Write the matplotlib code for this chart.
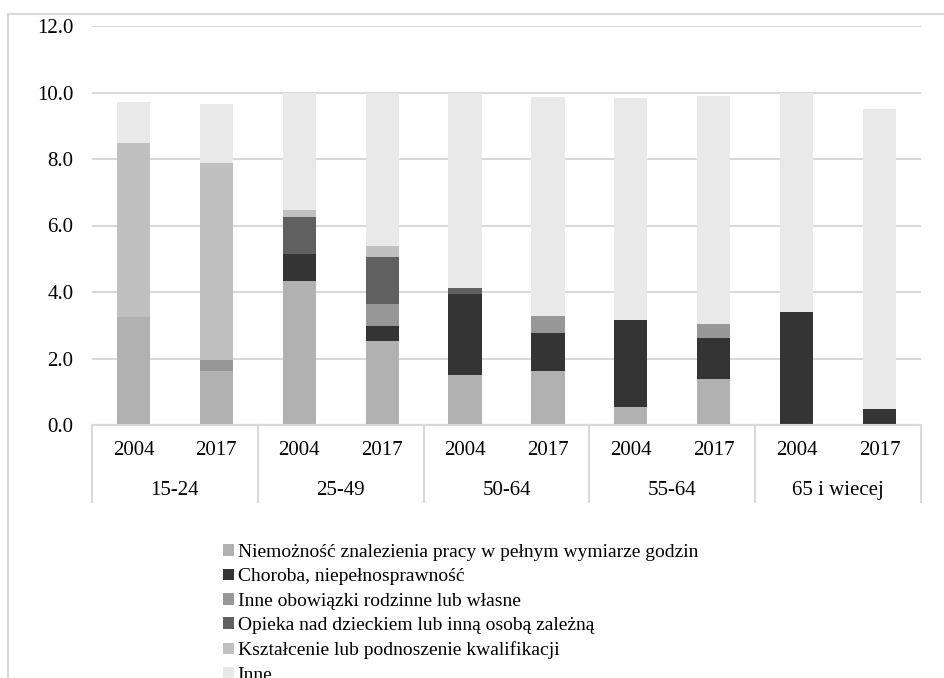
import matplotlib.pyplot as plt
from matplotlib.lines import Line2D
import numpy as np

plt.rcParams['font.family'] = ['Liberation Serif', 'DejaVu Serif']

# groups and years
groups = ["15-24", "25-49", "50-64", "55-64", "65 i wiecej"]
years = ["2004", "2017"]

# one value per bar (group x year)
niemoznosc = [3.24, 1.62, 4.32, 2.53, 1.49, 1.61, 0.54, 1.38, 0.00, 0.00]
choroba = [0.00, 0.00, 0.82, 0.46, 2.46, 1.17, 2.62, 1.25, 3.39, 0.47]
inne_obowiazki = [0.00, 0.34, 0.00, 0.64, 0.00, 0.49, 0.00, 0.42, 0.00, 0.00]
opieka = [0.00, 0.00, 1.13, 1.43, 0.17, 0.00, 0.00, 0.00, 0.00, 0.00]
ksztalcenie = [5.24, 5.93, 0.20, 0.32, 0.00, 0.00, 0.00, 0.00, 0.00, 0.00]
inne = [1.23, 1.77, 3.51, 4.60, 5.86, 6.59, 6.67, 6.84, 6.59, 9.03]

series = [
    ("Niemożność znalezienia pracy w pełnym wymiarze godzin", niemoznosc, "#b1b1b1"),
    ("Choroba, niepełnosprawność", choroba, "#343434"),
    ("Inne obowiązki rodzinne lub własne", inne_obowiazki, "#979797"),
    ("Opieka nad dzieckiem lub inną osobą zależną", opieka, "#606060"),
    ("Kształcenie lub podnoszenie kwalifikacji", ksztalcenie, "#c0c0c0"),
    ("Inne", inne, "#e9e9e9"),
]

W, H = 945, 678
fig = plt.figure(figsize=(W / 100, H / 100), dpi=100)

# outer frame (cropped on the right and bottom)
fig.add_artist(Line2D([8 / W, 8 / W], [0, 1 - 14 / H], color="#d9d9d9", lw=1.5))
fig.add_artist(Line2D([8 / W, 1], [1 - 14 / H, 1 - 14 / H], color="#d9d9d9", lw=1.5))

ax = fig.add_axes([92 / W, 1 - 425 / H, (921 - 92) / W, (425 - 26) / H])

x = np.arange(len(niemoznosc))
bottom = np.zeros(len(x))
handles = []
for label, vals, color in series:
    b = ax.bar(x, vals, 0.4, bottom=bottom, color=color, label=label, zorder=3)
    bottom += np.array(vals)
    handles.append(b)

ax.set_xlim(-0.5, len(x) - 0.5)
ax.set_ylim(0, 12)
ax.set_yticks(np.arange(0, 13, 2))
ax.set_yticklabels([f"{v:.1f}" for v in np.arange(0, 13, 2)], fontsize=15)
ax.tick_params(axis="y", length=0, pad=13.5)
ax.grid(axis="y", color="#d9d9d9", lw=1.5, zorder=0)
for s in ax.spines.values():
    s.set_visible(False)

# two-level category axis
ax.set_xticks(x)
ax.set_xticklabels(years * len(groups), fontsize=15)
ax.tick_params(axis="x", length=0, pad=11.5)
tr = ax.get_xaxis_transform()
ax.plot([-0.5, len(x) - 0.5], [0, 0], color="#d9d9d9", lw=1.5, transform=tr, clip_on=False, zorder=4)
for sep in np.arange(-0.5, len(x), 2):
    ax.plot([sep, sep], [0, -0.193], color="#d9d9d9", lw=1.5, transform=tr, clip_on=False)
for i, g in enumerate(groups):
    ax.text(2 * i + 0.5, -0.163, g, transform=tr, ha="center", va="center", fontsize=15)

fig.legend(handles=handles, loc="upper left", bbox_to_anchor=(223 / W, 1 - 544 / H),
           frameon=False, fontsize=14, handlelength=0.55, handleheight=0.55,
           handletextpad=0.2, labelspacing=0.38, borderpad=0, borderaxespad=0)

fig.savefig("out.png", dpi=100)
